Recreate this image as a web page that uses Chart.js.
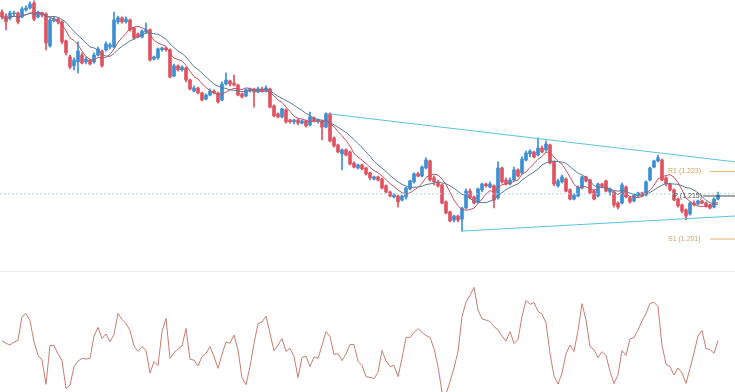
<!DOCTYPE html>
<html>
<head>
<meta charset="utf-8">
<script src="https://cdn.jsdelivr.net/npm/chart.js@4.4.0/dist/chart.umd.min.js"></script>
<style>
body { margin: 0; background: #fff; }
#wrap { position: relative; width: 735px; height: 392px; overflow: hidden; }
#price { position: absolute; left: 0; top: 0; }
#sep { position: absolute; left: 0; top: 271px; width: 735px; height: 1px; background: #ebebeb; }
#osc { position: absolute; left: 0; top: 272px; }
</style>
</head>
<body>
<div id="wrap">
  <canvas id="price" width="735" height="268"></canvas>
  <div id="sep"></div>
  <canvas id="osc" width="735" height="120"></canvas>
</div>
<script>
// candles, one per bar (index 0..179)
var opens = [
  1.2748,1.2735,1.2729,1.2742,1.2745,1.2732,1.2755,1.2761,1.2777,1.2732,
  1.2745,1.2742,1.2638,1.2719,1.2725,1.2716,1.2654,1.2602,1.2573,1.2586,
  1.2608,1.2586,1.2592,1.2586,1.2608,1.2621,1.2625,1.2634,1.2634,1.2716,
  1.2729,1.2716,1.2722,1.2696,1.2677,1.2667,1.2683,1.2690,1.2595,1.2599,
  1.2625,1.2631,1.2625,1.2540,1.2573,1.2560,1.2566,1.2527,1.2491,1.2501,
  1.2485,1.2465,1.2478,1.2491,1.2485,1.2462,1.2514,1.2524,1.2517,1.2511,
  1.2482,1.2475,1.2491,1.2498,1.2488,1.2498,1.2491,1.2498,1.2443,1.2417,
  1.2407,1.2430,1.2397,1.2391,1.2397,1.2387,1.2394,1.2381,1.2404,1.2394,
  1.2394,1.2374,1.2417,1.2339,1.2316,1.2287,1.2300,1.2293,1.2257,1.2241,
  1.2251,1.2241,1.2225,1.2205,1.2212,1.2205,1.2183,1.2163,1.2147,1.2150,
  1.2137,1.2147,1.2173,1.2196,1.2222,1.2215,1.2241,1.2264,1.2209,1.2196,
  1.2186,1.2131,1.2098,1.2072,1.2085,1.2075,1.2111,1.2166,1.2147,1.2131,
  1.2170,1.2189,1.2179,1.2183,1.2144,1.2241,1.2202,1.2189,1.2202,1.2235,
  1.2225,1.2267,1.2287,1.2293,1.2283,1.2306,1.2300,1.2316,1.2261,1.2183,
  1.2196,1.2205,1.2170,1.2140,1.2150,1.2176,1.2212,1.2202,1.2166,1.2150,
  1.2189,1.2199,1.2163,1.2163,1.2127,1.2127,1.2179,1.2144,1.2134,1.2150,
  1.2160,1.2153,1.2202,1.2244,1.2264,1.2267,1.2209,1.2189,1.2170,1.2140,
  1.2121,1.2105,1.2092,1.2127,1.2124,1.2134,1.2127,1.2121,1.2114,1.2140
];
var highs = [
  1.2755,1.2742,1.2751,1.2751,1.2748,1.2764,1.2768,1.2781,1.2784,1.2751,
  1.2748,1.2745,1.2729,1.2732,1.2729,1.2719,1.2657,1.2608,1.2599,1.2651,
  1.2615,1.2602,1.2595,1.2615,1.2634,1.2625,1.2651,1.2647,1.2748,1.2735,
  1.2732,1.2732,1.2725,1.2699,1.2680,1.2690,1.2712,1.2693,1.2605,1.2631,
  1.2634,1.2634,1.2628,1.2579,1.2576,1.2573,1.2569,1.2530,1.2508,1.2504,
  1.2488,1.2482,1.2498,1.2495,1.2488,1.2521,1.2550,1.2527,1.2543,1.2514,
  1.2485,1.2498,1.2501,1.2501,1.2504,1.2504,1.2508,1.2501,1.2446,1.2420,
  1.2436,1.2433,1.2400,1.2400,1.2400,1.2397,1.2397,1.2423,1.2407,1.2400,
  1.2397,1.2420,1.2420,1.2342,1.2319,1.2303,1.2303,1.2296,1.2261,1.2254,
  1.2254,1.2244,1.2228,1.2215,1.2215,1.2209,1.2186,1.2166,1.2157,1.2153,
  1.2153,1.2179,1.2202,1.2225,1.2228,1.2248,1.2274,1.2267,1.2215,1.2202,
  1.2189,1.2134,1.2101,1.2088,1.2088,1.2114,1.2173,1.2173,1.2150,1.2176,
  1.2192,1.2192,1.2196,1.2186,1.2261,1.2244,1.2209,1.2209,1.2244,1.2238,
  1.2277,1.2296,1.2300,1.2296,1.2339,1.2313,1.2329,1.2319,1.2264,1.2205,
  1.2218,1.2209,1.2173,1.2157,1.2183,1.2215,1.2215,1.2205,1.2170,1.2192,
  1.2192,1.2202,1.2176,1.2166,1.2131,1.2192,1.2183,1.2147,1.2157,1.2163,
  1.2163,1.2199,1.2244,1.2267,1.2283,1.2270,1.2212,1.2192,1.2173,1.2144,
  1.2124,1.2108,1.2131,1.2134,1.2137,1.2137,1.2131,1.2124,1.2144,1.2163
];
var lows = [
  1.2725,1.2690,1.2722,1.2735,1.2709,1.2729,1.2751,1.2758,1.2719,1.2729,
  1.2732,1.2625,1.2634,1.2716,1.2709,1.2644,1.2608,1.2563,1.2560,1.2550,
  1.2579,1.2579,1.2576,1.2582,1.2605,1.2569,1.2621,1.2628,1.2631,1.2709,
  1.2712,1.2712,1.2686,1.2660,1.2664,1.2664,1.2680,1.2589,1.2592,1.2595,
  1.2621,1.2621,1.2534,1.2537,1.2556,1.2556,1.2521,1.2495,1.2488,1.2482,
  1.2459,1.2462,1.2475,1.2482,1.2452,1.2459,1.2511,1.2508,1.2508,1.2475,
  1.2469,1.2472,1.2488,1.2439,1.2485,1.2488,1.2488,1.2436,1.2407,1.2404,
  1.2404,1.2387,1.2387,1.2384,1.2381,1.2384,1.2374,1.2378,1.2391,1.2387,
  1.2332,1.2371,1.2326,1.2309,1.2290,1.2235,1.2280,1.2251,1.2241,1.2238,
  1.2235,1.2218,1.2202,1.2202,1.2199,1.2173,1.2160,1.2147,1.2144,1.2114,
  1.2134,1.2140,1.2170,1.2192,1.2212,1.2212,1.2238,1.2199,1.2186,1.2179,
  1.2124,1.2092,1.2066,1.2066,1.2066,1.2036,1.2108,1.2140,1.2124,1.2127,
  1.2163,1.2179,1.2176,1.2111,1.2140,1.2192,1.2186,1.2186,1.2199,1.2212,
  1.2222,1.2264,1.2277,1.2274,1.2280,1.2290,1.2296,1.2254,1.2183,1.2179,
  1.2192,1.2163,1.2137,1.2137,1.2147,1.2173,1.2196,1.2157,1.2137,1.2147,
  1.2179,1.2163,1.2153,1.2114,1.2108,1.2124,1.2144,1.2127,1.2131,1.2147,
  1.2147,1.2150,1.2199,1.2241,1.2261,1.2199,1.2183,1.2166,1.2134,1.2114,
  1.2095,1.2072,1.2088,1.2118,1.2121,1.2124,1.2114,1.2108,1.2111,1.2137
];
var closes = [
  1.2732,1.2716,1.2745,1.2745,1.2716,1.2758,1.2761,1.2774,1.2725,1.2745,
  1.2738,1.2647,1.2722,1.2725,1.2716,1.2651,1.2615,1.2569,1.2592,1.2621,
  1.2582,1.2595,1.2579,1.2608,1.2628,1.2573,1.2644,1.2641,1.2722,1.2729,
  1.2716,1.2725,1.2690,1.2664,1.2667,1.2686,1.2690,1.2592,1.2602,1.2628,
  1.2631,1.2625,1.2537,1.2573,1.2560,1.2569,1.2527,1.2498,1.2501,1.2485,
  1.2462,1.2478,1.2491,1.2485,1.2456,1.2514,1.2527,1.2514,1.2511,1.2478,
  1.2472,1.2495,1.2498,1.2488,1.2498,1.2491,1.2501,1.2439,1.2410,1.2407,
  1.2433,1.2391,1.2391,1.2397,1.2387,1.2394,1.2378,1.2407,1.2394,1.2397,
  1.2374,1.2417,1.2329,1.2313,1.2293,1.2300,1.2283,1.2254,1.2244,1.2251,
  1.2238,1.2222,1.2209,1.2212,1.2202,1.2176,1.2163,1.2150,1.2153,1.2131,
  1.2150,1.2176,1.2199,1.2222,1.2215,1.2244,1.2267,1.2202,1.2196,1.2183,
  1.2127,1.2095,1.2069,1.2085,1.2072,1.2111,1.2166,1.2144,1.2127,1.2173,
  1.2189,1.2183,1.2189,1.2137,1.2241,1.2196,1.2189,1.2202,1.2235,1.2215,
  1.2270,1.2290,1.2296,1.2277,1.2306,1.2293,1.2319,1.2257,1.2189,1.2199,
  1.2212,1.2166,1.2140,1.2153,1.2179,1.2212,1.2199,1.2160,1.2140,1.2189,
  1.2183,1.2166,1.2173,1.2121,1.2114,1.2186,1.2147,1.2131,1.2153,1.2160,
  1.2150,1.2196,1.2241,1.2264,1.2274,1.2202,1.2189,1.2170,1.2137,1.2118,
  1.2101,1.2085,1.2127,1.2121,1.2134,1.2127,1.2118,1.2111,1.2140,1.2153
];
// oscillator under the price panel
var oscValues = [
  55.7,54.3,53.5,55,55.8,67.7,69.3,65.7,55,48.5,
  46,33.8,53.3,53.3,49,45.7,31.8,33.5,42.7,45.5,
  46.8,46.5,46.8,58,62.3,56.8,59,55.2,58.8,69.3,
  66.3,64.2,60.8,53,50.3,52.7,50.8,39.5,45.2,43.2,
  60.2,66.8,46.8,49.7,51.5,53,61.8,46.3,46,43,
  47.7,49.3,52.7,47.7,41.8,48.8,55,54.3,58.5,51,
  37.2,33.7,42.7,54.3,64.2,65,68,59.3,50.5,53.5,
  56.7,50.3,51.8,47.8,37.2,47.2,48,42.7,47.5,46.8,
  53.2,60.2,57.7,48.8,49.2,45.7,49,53.7,53.7,45.3,
  43.3,37.7,37.3,36.7,39.8,50.7,45.7,42.7,43.3,37.7,
  46.8,57.2,57.2,59.7,61.7,59.8,58.2,57.3,51.7,42.7,
  30,29,35.2,42,50.2,67.7,75,78.3,82.3,71,
  66.5,66,65.2,62.7,61,58,55.5,60.2,54.3,56.3,
  67.8,75.8,73.8,74.7,70.3,69,64.5,49.3,38,34,
  39.5,49.2,53.5,50.3,60.8,74.2,66,52.7,51.2,47.2,
  50.2,48.2,40.3,34.2,38.7,50.7,48.3,56.5,57.2,61,
  65.5,69.3,74.3,74.8,72.8,53.3,44,42.7,38.5,42,
  39.5,34.3,41.8,49.5,58,60.7,51.7,51.3,49.3,55.8
];
var pivotNames = ['R1', 'P', 'S1'];
var pivotLevels = [1.223, 1.215, 1.201];
var pivotLabelX = [166.5, 167.8, 166.5];
var pivotLineX = [177, 175.3, 177];
var upperTrend = [[81.8, 1.2417], [183.25, 1.2261]];
var lowerTrend = [[115, 1.2036], [183.25, 1.2085]];
var priceLine = 1.2157;
var maFast = 7, maSlow = 12;

var X_MIN = -0.5, X_MAX = 183.25;
var UP = '#3b8fd4', DOWN = '#e0525f';

function sma(n) {
  var out = [];
  for (var i = 0; i < closes.length; i++) {
    var s = 0, c = 0;
    for (var j = Math.max(0, i - n + 1); j <= i; j++) { s += closes[j]; c++; }
    out.push({x: i, y: s / c});
  }
  return out;
}

var bodies = [], wicks = [], colors = [];
for (var i = 0; i < closes.length; i++) {
  bodies.push({x: i, y: [opens[i], closes[i]]});
  wicks.push({x: i, y: [lows[i], highs[i]]});
  colors.push(closes[i] >= opens[i] ? UP : DOWN);
}

function seg(pts) {
  return pts.map(function (p) { return {x: p[0], y: p[1]}; });
}
function lineSet(data, color, dash, order) {
  return {type: 'line', data: data, borderColor: color, borderWidth: 1,
    borderDash: dash || [], pointRadius: 0, tension: 0, fill: false, order: order};
}

var pivotSets = pivotLevels.map(function (lv, k) {
  return lineSet([{x: pivotLineX[k], y: lv}, {x: X_MAX, y: lv}],
    pivotNames[k] === 'P' ? '#4a4a4a' : '#e2b46e', null, 0);
});

var pivotLabels = {
  id: 'pivotLabels',
  afterDatasetsDraw: function (chart) {
    var ctx = chart.ctx, sx = chart.scales.x, sy = chart.scales.y;
    ctx.save();
    ctx.font = '7px "Liberation Sans", Arial, sans-serif';
    ctx.textBaseline = 'middle';
    for (var k = 0; k < pivotLevels.length; k++) {
      ctx.fillStyle = pivotNames[k] === 'P' ? '#555555' : '#d6a35a';
      ctx.fillText(pivotNames[k] + ' (' + pivotLevels[k].toFixed(3) + ')',
        sx.getPixelForValue(pivotLabelX[k]), sy.getPixelForValue(pivotLevels[k]));
    }
    ctx.restore();
  }
};

new Chart(document.getElementById('price'), {
  type: 'bar',
  data: {
    datasets: [
      {data: wicks, backgroundColor: colors, barThickness: 1, grouped: false, order: 4},
      {data: bodies, backgroundColor: colors, barThickness: 3, grouped: false, order: 3},
      lineSet(sma(maSlow), '#5d7a98', null, 2),
      lineSet(sma(maFast), '#c25562', null, 2),
      lineSet([{x: X_MIN, y: priceLine}, {x: X_MAX, y: priceLine}], '#a6d8ea', [2, 2], 1),
      lineSet(seg(upperTrend), '#5cc3dd', null, 1),
      lineSet(seg(lowerTrend), '#5cc3dd', null, 1)
    ].concat(pivotSets)
  },
  options: {
    responsive: false,
    devicePixelRatio: 1,
    animation: false,
    events: [],
    layout: { padding: 0 },
    plugins: { legend: { display: false }, tooltip: { enabled: false } },
    scales: {
      x: { type: 'linear', min: X_MIN, max: X_MAX, offset: false, display: false },
      y: { min: 1.1916, max: 1.2787, display: false }
    }
  },
  plugins: [pivotLabels]
});

new Chart(document.getElementById('osc'), {
  type: 'line',
  data: {
    datasets: [{
      data: oscValues.map(function (v, i) { return {x: i, y: v}; }),
      borderColor: '#c97d72', borderWidth: 1, pointRadius: 0, tension: 0, fill: false
    }]
  },
  options: {
    responsive: false,
    devicePixelRatio: 1,
    animation: false,
    events: [],
    layout: { padding: 0 },
    plugins: { legend: { display: false }, tooltip: { enabled: false } },
    scales: {
      x: { type: 'linear', min: X_MIN, max: X_MAX, display: false },
      y: { min: 30, max: 90, display: false }
    }
  }
});
</script>
</body>
</html>
